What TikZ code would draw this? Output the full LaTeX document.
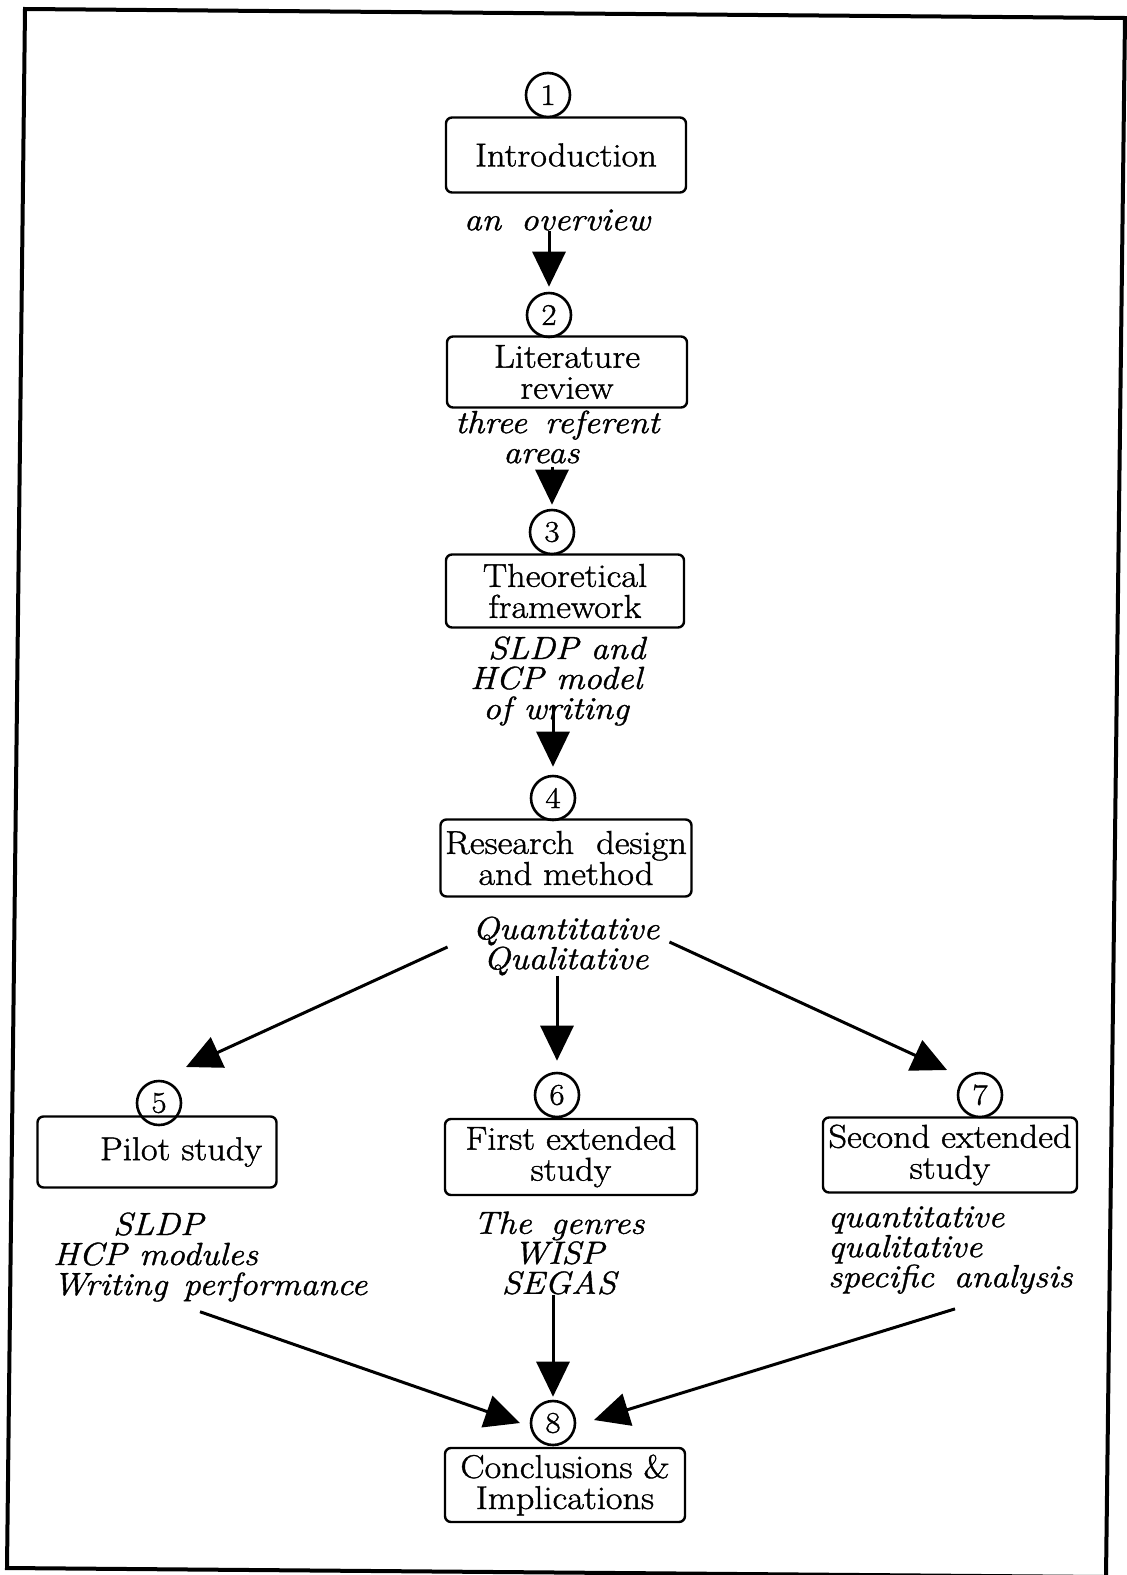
\documentclass[tikz,border=0pt]{standalone}
\usepackage{fontspec}
\setmainfont{Latin Modern Roman}[FakeStretch=1.1,
  UprightFeatures={FakeBold=1.2}, ItalicFeatures={FakeBold=1.2}]
\usetikzlibrary{arrows.meta,calc}
\begin{document}
\begin{tikzpicture}[x=1pt,y=-1pt,
  stage/.style={draw, line width=2.4pt, rounded corners=6pt, align=center,
    font=\fontsize{33}{31}\selectfont, inner sep=0pt},
  num/.style={draw, circle, line width=2.6pt, minimum size=44pt, inner sep=0pt,
    font=\fontsize{30}{30}\selectfont},
  note/.style={font=\fontsize{32}{30}\selectfont\itshape, inner sep=0pt},
  arr/.style={line width=3pt, -{Triangle[length=35pt,width=33pt]}},
]
\useasboundingbox (0,0) rectangle (1127,1575);

% outer frame
\draw[line width=4pt, line join=miter] (25,9) -- (1125,18) -- (1106,1577) -- (7,1568) -- cycle;

% chapters
\node[stage, minimum width=240pt, minimum height=75pt] (s1) at (566,155) {Introduction};
\node[num] (c1) at (548,95) {1};
\node[note] (ov) at (557,220) {an\hspace{20pt}overview};

\node[stage, minimum width=240pt, minimum height=71pt] (s2) at (567,372) {Literature\\review};
\node[num] (c2) at (549,315) {2};
\node[note, align=left, anchor=west] (ref) at (455,437) {three\hspace{18pt}referent\\\hspace*{48pt}areas};

\node[stage, minimum width=238pt, minimum height=73pt] (s3) at (565,591) {Theoretical\\framework};
\node[num] (c3) at (552,532) {3};
\node[note, align=left, anchor=west] (fw) at (470,681) {\hspace*{18pt}SLDP and\\HCP model\\\hspace*{13pt}of writing};

\node[stage, minimum width=251pt, minimum height=77pt] (s4) at (566,858) {Research\hspace{22pt}design\\and method};
\node[num] (c4) at (553,798) {4};
\node[note, align=center] (qq) at (566,946) {Quantitative\\Qualitative};

\node[stage, minimum width=239pt, minimum height=71pt] (s5) at (157,1152) {\hspace*{48pt}Pilot study};
\node[num] (c5) at (159,1103) {5};
\node[note, align=left, anchor=west] (l5) at (53,1257) {\hspace*{60pt}SLDP\\HCP modules\\Writing\hspace{16pt}performance};

\node[stage, minimum width=252pt, minimum height=76pt] (s6) at (571,1157) {First extended\\study};
\node[num] (c6) at (557,1095) {6};
\node[note, align=center] (l6) at (559,1253) {The\hspace{19pt}genres\\WISP\\SEGAS};

\node[stage, minimum width=254pt, minimum height=75pt] (s7) at (950,1155) {Second extended\\study};
\node[num] (c7) at (980,1095) {7};
\node[note, align=left, anchor=west] (l7) at (828,1250) {quantitative\\qualitative\\specific\hspace{20pt}analysis};

\node[stage, minimum width=240pt, minimum height=74pt] (s8) at (565,1485) {Conclusions \&\\Implications};
\node[num] (c8) at (553,1423) {8};

% flow
\draw[arr, shorten >=5pt] (ov.south -| c2.north) -- (c2.north);
\draw[arr, shorten <=3pt, shorten >=4pt] (ref.south -| c3.north) -- (c3.north);
\draw[arr, shorten <=-20pt, shorten >=8pt] (fw.south -| c4.north) -- (c4.north);
\draw[arr] ($(qq.west)+(-25,1)$) -- ($(c5)+(27,-36)$);
\draw[arr] (qq.south -| c6.north) -- ($(c6.north)+(0,-11)$);
\draw[arr] ($(qq.east)+(10,-4)$) -- ($(c7)+(-33,-25)$);
\draw[arr] ($(l5.south west)+(147,10)$) -- ($(c8)+(-33,0)$);
\draw[arr, shorten >=3pt] (l6.south -| c8.north) -- (c8.north);
\draw[arr] ($(l7.south west)+(127,15)$) -- ($(c8)+(41,-3)$);
\end{tikzpicture}
\end{document}
